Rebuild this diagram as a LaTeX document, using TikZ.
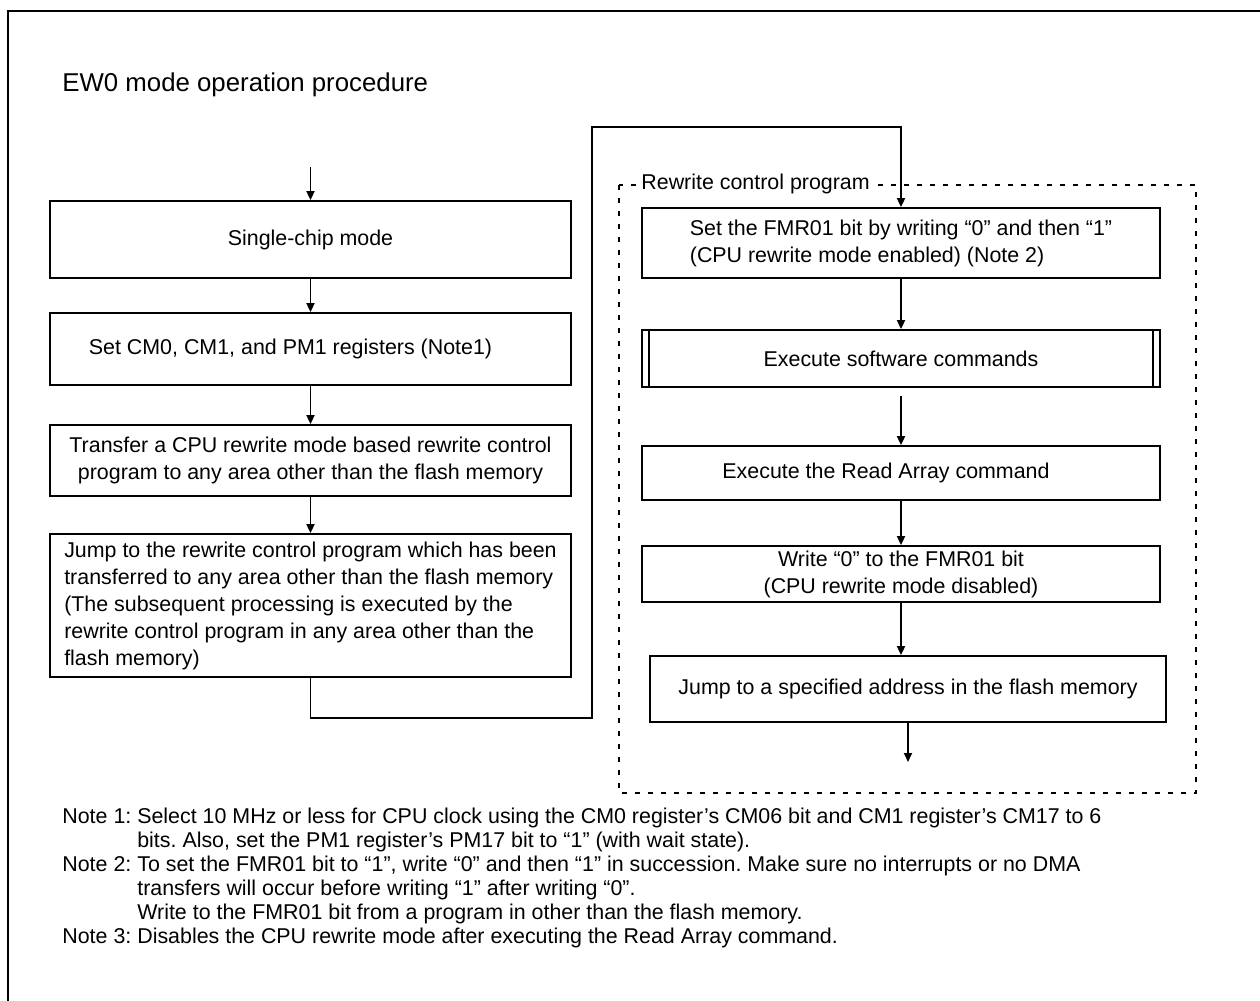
\documentclass[tikz,border=0pt]{standalone}
\usepackage{fontspec}
\setmainfont{Liberation Sans}
\usetikzlibrary{arrows.meta, positioning, calc}
\frenchspacing

\begin{document}
\begin{tikzpicture}[
  x=0.5pt, y=-0.5pt,
  flowbox/.style={draw, line width=0.9pt, minimum width=260.5pt,
                  align=center, inner sep=2pt,
                  font=\fontsize{10.7}{13.5}\selectfont},
  flow/.style={-{Triangle[length=4.5pt, width=4pt]}, line width=0.9pt}
]
\useasboundingbox (0,0) rectangle (1260,1001);
% outer frame, cut off at the right and at the bottom
\draw[line width=1.4pt] (1260,11) -- (8,11) -- (8,1001);

\node[anchor=west, inner sep=0, font=\fontsize{12.9}{15}\selectfont]
  (title) at (62,85) {EW0 mode operation procedure};

% left column
\coordinate (entry) at (310.5,167);
\node[flowbox, minimum height=38.5pt] (single) at (310.5,239.5)
  {Single-chip mode};
\node[flowbox, minimum height=36pt] (setcm) at (310.5,349)
  {Set CM0, CM1, and PM1 registers (Note1)\hspace*{20pt}};
\node[flowbox, minimum height=35.5pt] (transfer) at (310.5,460.5)
  {Transfer a CPU rewrite mode based rewrite control\\
   program to any area other than the flash memory};
\node[flowbox, minimum height=71.5pt, align=left] (jump) at (310.5,605.5)
  {Jump to the rewrite control program which has been\\
   transferred to any area other than the flash memory\\
   (The subsequent processing is executed by the\\
   rewrite control program in any area other than the\\
   flash memory)};

% rewrite control program
\draw[line width=0.9pt, dash pattern=on 2.5pt off 4pt] (619,185) rectangle (1196,793);
\node[anchor=west, fill=white, inner xsep=2pt, inner ysep=1pt,
      font=\fontsize{10.7}{13.5}\selectfont] (rcp) at (637,184)
  {Rewrite control program};

\node[flowbox, minimum width=259pt, minimum height=35pt, align=left] (fmrset) at (901,243)
  {Set the FMR01 bit by writing “0” and then “1”\\
   (CPU rewrite mode enabled) (Note 2)};
\node[flowbox, minimum width=259pt, minimum height=28.5pt] (swcmd) at (901,358.5)
  {Execute software commands};
\draw[line width=0.9pt] ([xshift=4pt]swcmd.north west) -- ([xshift=4pt]swcmd.south west);
\draw[line width=0.9pt] ([xshift=-4pt]swcmd.north east) -- ([xshift=-4pt]swcmd.south east);
\node[flowbox, minimum width=259pt, minimum height=27pt] (readarr) at (901,473)
  {Execute the Read Array command\hspace*{15pt}};
\node[flowbox, minimum width=259pt, minimum height=28pt] (fmrclr) at (901,574)
  {Write “0” to the FMR01 bit\\(CPU rewrite mode disabled)};
\node[flowbox, minimum width=258pt, minimum height=33pt] (jumpflash) at (908,689)
  {Jump to a specified address in the flash memory};
\coordinate (exit) at (908,762);

% connectors
\draw[flow] (entry) -- (single);
\draw[flow] (single) -- (setcm);
\draw[flow] (setcm) -- (transfer);
\draw[flow] (transfer) -- (jump);
\coordinate (low) at (592,718);
\coordinate (high) at (592,127);
\draw[flow] (jump.south) |- (low) -- (high) -| (fmrset.north);
\draw[flow] (fmrset) -- (swcmd);
\draw[flow] ([yshift=-4pt]swcmd.south) -- (readarr);
\draw[flow] (readarr) -- (fmrclr);
\draw[flow] (fmrclr) -- (jumpflash.north -| fmrclr.south);
\draw[flow] (jumpflash) -- (exit);

% notes
\node[anchor=north west, inner sep=0, align=left,
      font=\fontsize{10.7}{12}\selectfont] (notes) at (62,806)
  {\begin{tabular}{@{}l@{ }l@{}}
   Note 1: & Select 10 MHz or less for CPU clock using the CM0 register’s CM06 bit and CM1 register’s CM17 to 6\\
           & bits. Also, set the PM1 register’s PM17 bit to “1” (with wait state).\\
   Note 2: & To set the FMR01 bit to “1”, write “0” and then “1” in succession. Make sure no interrupts or no DMA\\
           & transfers will occur before writing “1” after writing “0”.\\
           & Write to the FMR01 bit from a program in other than the flash memory.\\
   Note 3: & Disables the CPU rewrite mode after executing the Read Array command.
   \end{tabular}};
\end{tikzpicture}
\end{document}
